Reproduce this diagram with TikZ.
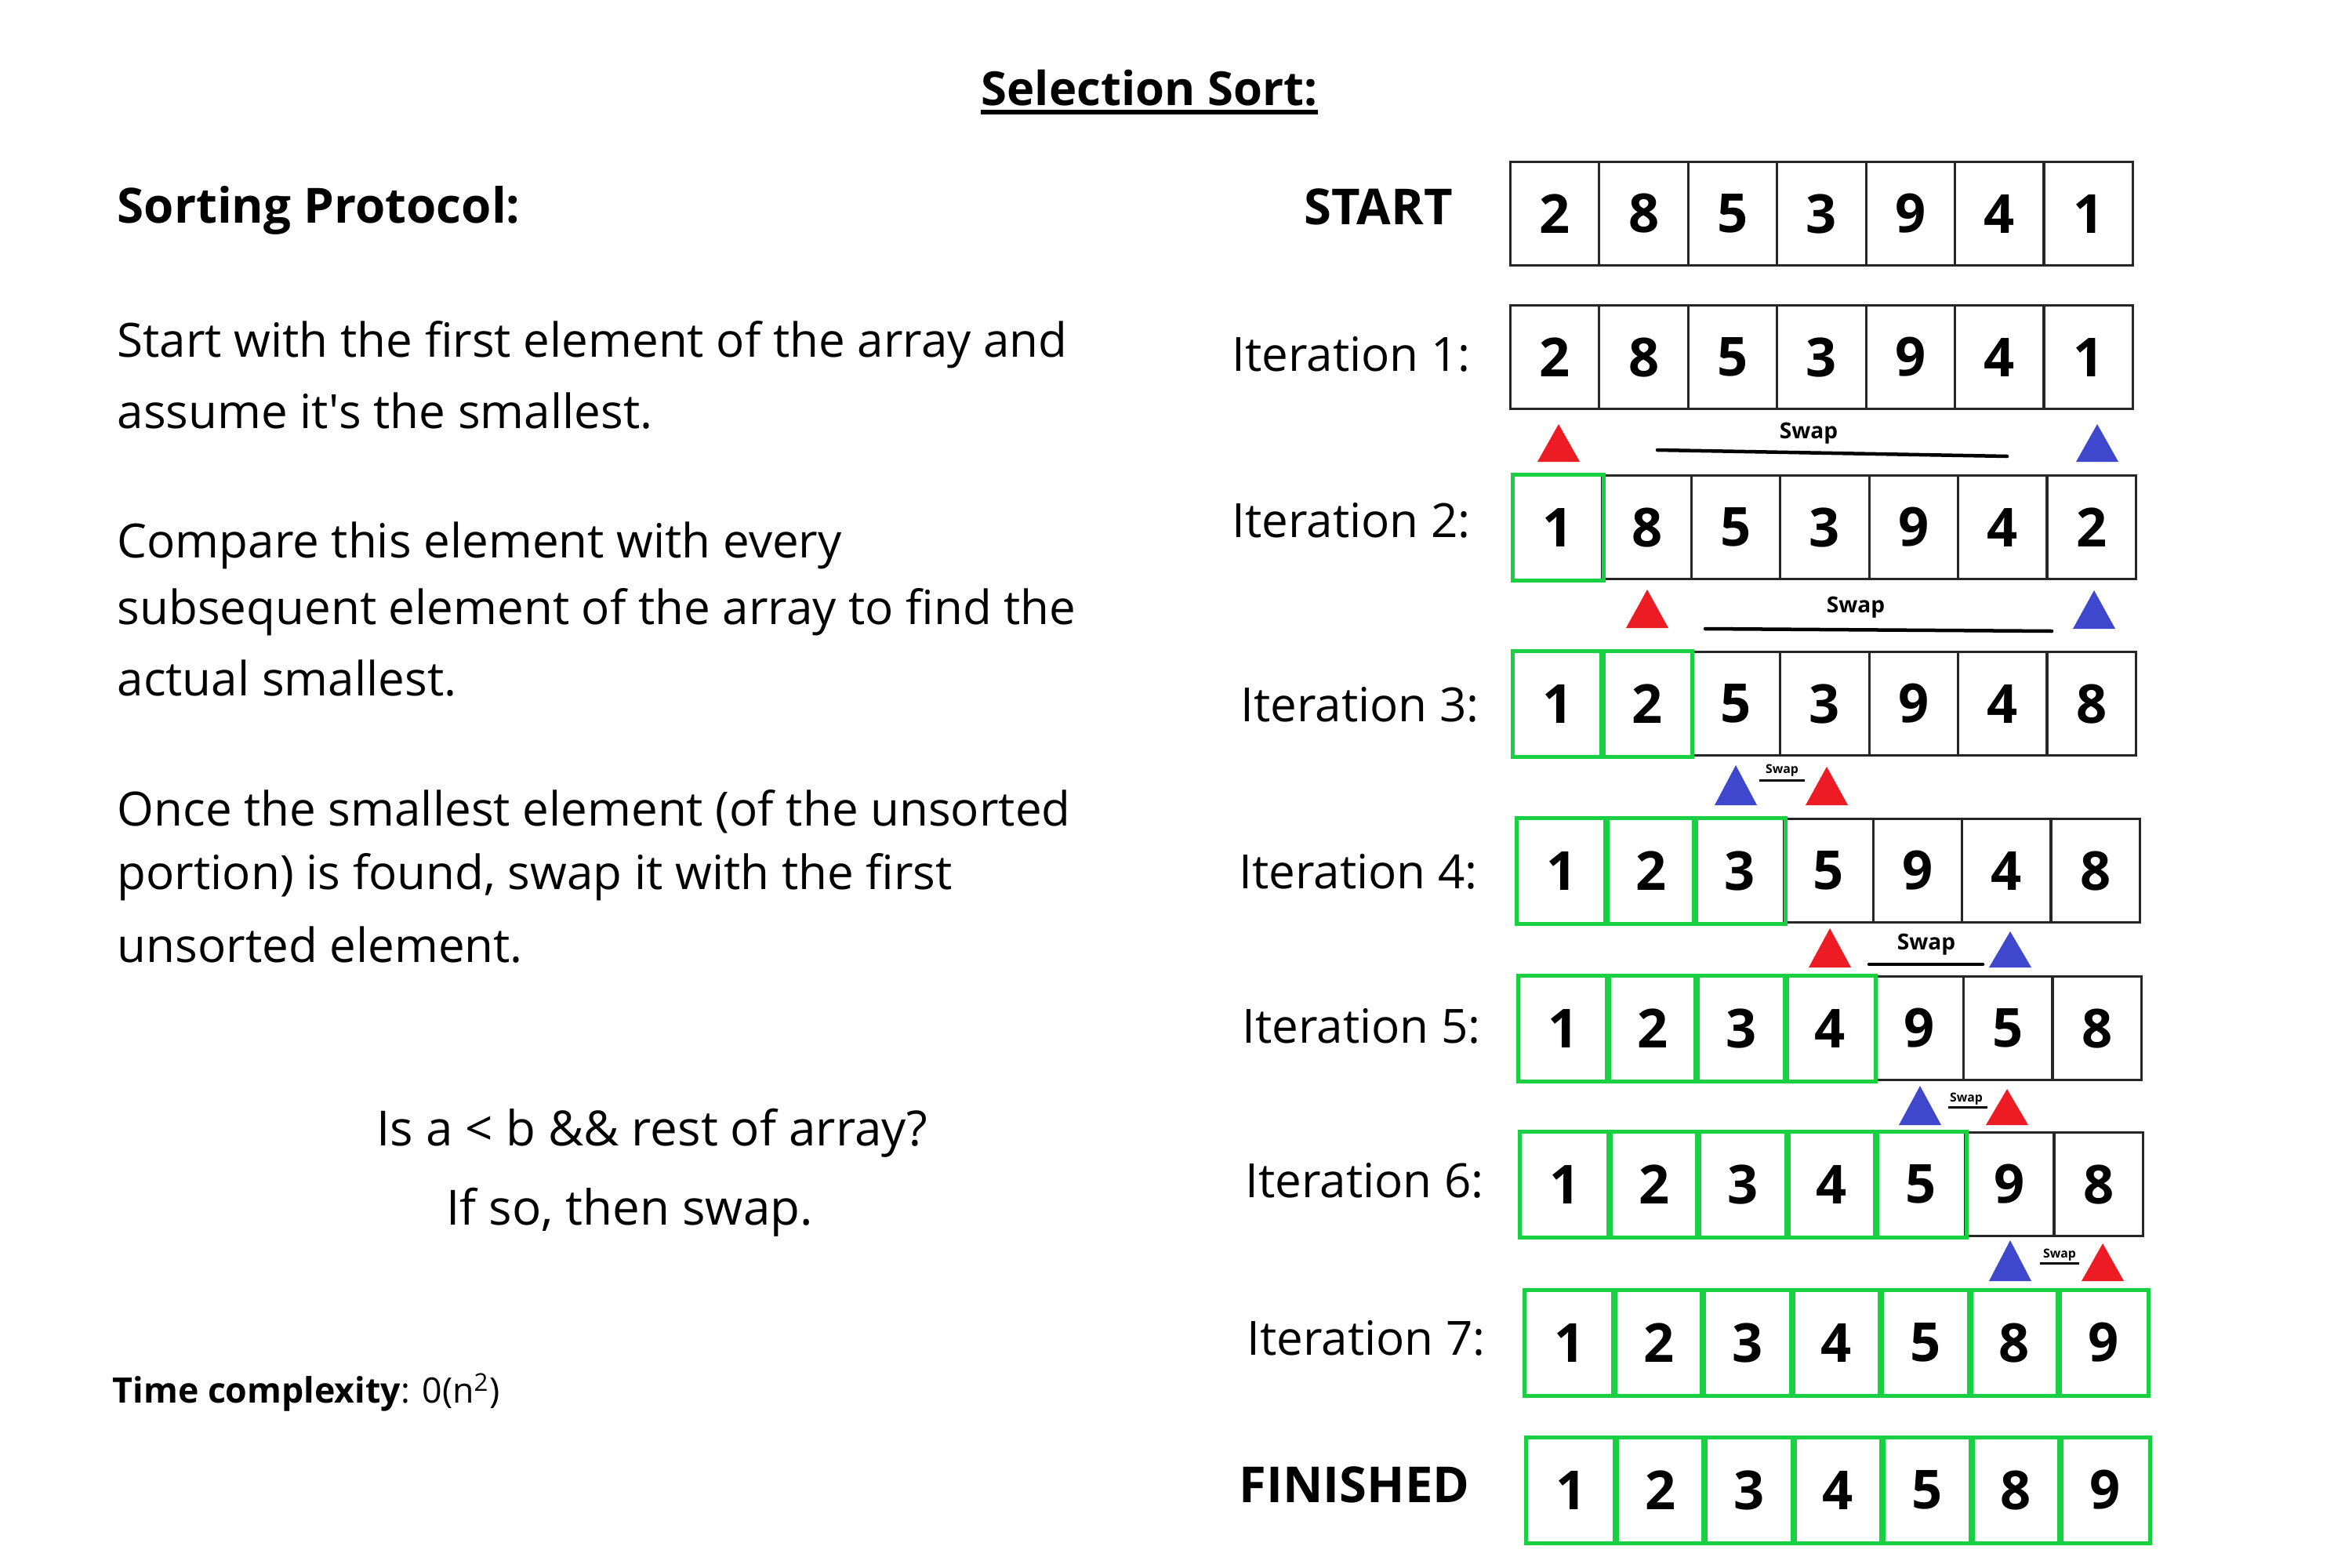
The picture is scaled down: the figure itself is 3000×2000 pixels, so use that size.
\documentclass[tikz,border=0pt]{standalone}
\usepackage{fontspec}
\setmainfont{Open Sans}
\definecolor{tred}{RGB}{237,28,36}
\definecolor{tblue}{RGB}{63,72,204}
\definecolor{tgreen}{RGB}{24,208,66}
\begin{document}
\begin{tikzpicture}[x=0.01cm,y=-0.01cm,
  cell/.style={draw=black!85, line width=0.3mm, minimum width=1.134cm, minimum height=1.32cm, inner sep=0pt, font=\fontsize{19.5}{20}\selectfont\bfseries, anchor=north west},
  gline/.style={draw=tgreen, line width=0.5mm},
  body/.style={font=\fontsize{17.1}{20}\selectfont, anchor=west, inner sep=0pt},
  lbl/.style={font=\fontsize{17.1}{20}\selectfont, anchor=west, inner sep=0pt},
  blbl/.style={font=\fontsize{18}{20}\selectfont\bfseries, anchor=west, inner sep=0pt},
  swapbig/.style={font=\fontsize{8}{9}\selectfont\bfseries, inner sep=0pt},
  swapsmall/.style={font=\fontsize{4.5}{5}\selectfont\bfseries, inner sep=0pt},
  swline/.style={line width=0.45mm, line cap=round},
  swlinesm/.style={line width=0.3mm}]
\useasboundingbox (0,0) rectangle (3000,2000);
\fill[white] (0,0) rectangle (3000,2000);

% title
\node[font=\fontsize{17}{20}\selectfont\bfseries, inner sep=0pt] (title) at (1466,112) {Selection Sort:};
\draw[line width=0.55mm] (title.south west|-0,143) -- (title.south east|-0,143);

% left text
\node[font=\fontsize{17.6}{20}\selectfont\bfseries, anchor=west, inner sep=0pt] (proto) at (149,268) {Sorting Protocol:};
\node[body] (p1a) at (149,440) {Start with the first element of the array and};
\node[body] (p1b) at (149,524) {assume it\textquotesingle s the smallest.};
\node[body] (p2a) at (149,696) {Compare this element with every};
\node[body] (p2b) at (149,781) {subsequent element of the array to find the};
\node[body] (p2c) at (149,865) {actual smallest.};
\node[body] (p3a) at (149,1035) {Once the smallest element (of the unsorted};
\node[body] (p3b) at (149,1119) {portion) is found, swap it with the first};
\node[body] (p3c) at (149,1205) {unsorted element.};
\node[font=\fontsize{17.6}{20}\selectfont, inner sep=0pt] (q1) at (832,1445) {Is a < b \&\& rest of array?};
\node[font=\fontsize{17.6}{20}\selectfont, inner sep=0pt] (q2) at (803,1546) {If so, then swap.};
\node[font=\fontsize{12.7}{15}\selectfont, anchor=west, inner sep=0pt] (tc) at (143,1776) {\textbf{Time complexity}: 0(n\textsuperscript{2})};

% row labels
\node[blbl] (lstart) at (1663,264) {START};
\node[lbl] (l1) at (1571,452) {Iteration 1:};
\node[lbl] (l2) at (1571,664) {Iteration 2:};
\node[lbl] (l3) at (1582,899) {Iteration 3:};
\node[lbl] (l4) at (1580,1112) {Iteration 4:};
\node[lbl] (l5) at (1584,1309) {Iteration 5:};
\node[lbl] (l6) at (1588,1506) {Iteration 6:};
\node[lbl] (l7) at (1590,1707) {Iteration 7:};
\node[blbl] (lfin) at (1580,1894) {FINISHED};

% arrays
\foreach \r/\x/\y/\vals/\g in {
  0/1925/205/{2,8,5,3,9,4,1}/0,
  1/1925/388/{2,8,5,3,9,4,1}/0,
  2/1929/605/{1,8,5,3,9,4,2}/1,
  3/1929/830/{1,2,5,3,9,4,8}/2,
  4/1934/1043/{1,2,3,5,9,4,8}/3,
  5/1936/1244/{1,2,3,4,9,5,8}/4,
  6/1938/1443/{1,2,3,4,5,9,8}/5,
  7/1944/1645/{1,2,3,4,5,8,9}/7,
  8/1946/1833/{1,2,3,4,5,8,9}/7}{
  \foreach \v [count=\i] in \vals {
    \ifnum\i>\g
      \node[cell] (r\r c\i) at ({\x+(\i-1)*113.4},\y) {\v};
    \else
      \node[cell, draw=none] (r\r c\i) at ({\x+(\i-1)*113.4},\y) {\v};
    \fi
  }
  \foreach \v [count=\i] in \vals {
    \ifnum\i>\g\else
      \draw[gline] (r\r c\i.north west) rectangle (r\r c\i.south east);
    \fi
  }
}

% markers: triangles
\newcommand{\tri}[4]{\fill[#1] ({#2-27},#4) -- (#2,#3) -- ({#2+27},#4) -- cycle;}
% after iteration 1
\tri{tred}{1988}{541}{589}
\tri{tblue}{2675}{541}{589}
\node[swapbig] (s1) at (2307,553) {Swap};
\draw[swline] (2114,574) -- (2560,582);
% after iteration 2
\tri{tred}{2101}{752}{801}
\tri{tblue}{2671}{753}{802}
\node[swapbig] (s2) at (2367,775) {Swap};
\draw[swline] (2175,802) -- (2617,805);
% after iteration 3
\tri{tblue}{2214}{976}{1027}
\tri{tred}{2330}{978}{1027}
\node[swapsmall] (s3) at (2273,983) {Swap};
\draw[swlinesm] (2244,995) -- (2302,995);
% after iteration 4
\tri{tred}{2334}{1184}{1234}
\tri{tblue}{2564}{1188}{1234}
\node[swapbig] (s4) at (2457,1205) {Swap};
\draw[swline] (2384,1230) -- (2529,1230);
% after iteration 5
\tri{tblue}{2449}{1385}{1435}
\tri{tred}{2560}{1389}{1435}
\node[swapsmall] (s5) at (2508,1402) {Swap};
\draw[swlinesm] (2485,1412) -- (2535,1412);
% after iteration 6
\tri{tblue}{2564}{1582}{1634}
\tri{tred}{2682}{1586}{1634}
\node[swapsmall] (s6) at (2627,1601) {Swap};
\draw[swlinesm] (2602,1611) -- (2652,1611);
\end{tikzpicture}
\end{document}
